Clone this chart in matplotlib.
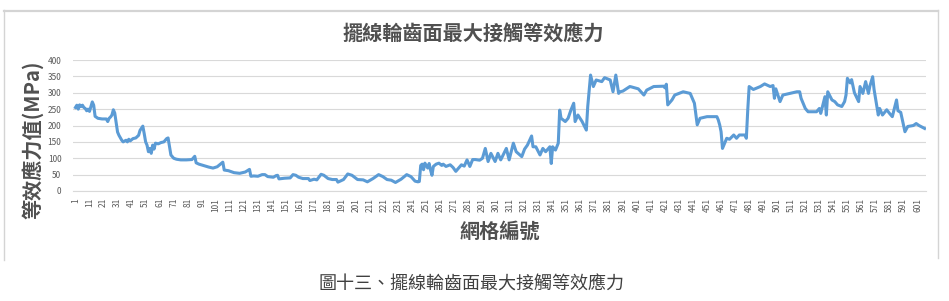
import matplotlib
matplotlib.use("Agg")
import matplotlib.pyplot as plt
from matplotlib.lines import Line2D

plt.rcParams['font.family'] = ['Noto Sans CJK TC', 'DejaVu Sans']

# values (grid index, stress in MPa)
idx_a = [1, 2, 3, 4, 5, 6, 7, 8, 9, 10, 11, 12, 13, 14, 15, 17, 20, 23, 24, 25, 26, 27, 28, 29,
         31, 32, 34, 35, 37, 38, 39, 40, 42, 44, 46, 47, 49, 50, 51, 52, 53, 54, 55, 56, 57, 58,
         60, 62, 64, 66, 67, 68, 69, 71, 73, 76, 80, 84, 86, 87, 89, 92, 96, 99, 102, 106, 107,
         110, 114, 118, 122, 125, 126, 128, 131, 134, 136, 138, 142, 144, 145, 146, 150, 154,
         156, 158, 160, 163, 167, 168, 171, 173, 176, 178, 181, 184, 187, 188, 192, 195, 198,
         202, 206, 209, 213, 217, 220, 223, 226, 229, 233, 237, 240, 243, 245, 246]
val_a = [255, 262, 250, 263, 258, 262, 255, 252, 245, 250, 243, 258, 272, 262, 228, 222, 220, 220,
         212, 222, 226, 232, 248, 238, 180, 170, 155, 150, 155, 150, 158, 153, 160, 162, 170, 185,
         198, 175, 150, 140, 120, 130, 115, 140, 128, 146, 144, 148, 150, 160, 162, 135, 110, 100,
         97, 95, 95, 96, 106, 86, 82, 78, 73, 70, 74, 88, 64, 62, 56, 54, 58, 66, 45, 46, 45, 50,
         50, 44, 42, 47, 48, 37, 39, 40, 50, 48, 42, 38, 38, 32, 36, 34, 51, 48, 38, 35, 35, 27,
         35, 52, 48, 35, 34, 28, 38, 50, 44, 35, 33, 26, 36, 50, 44, 30, 28, 29]

idx_b = [247, 248, 249, 250, 252, 253, 254, 255, 256, 258, 260, 262, 263, 265, 268, 270, 272, 274,
         276, 278, 280, 282, 284, 286, 289, 291, 293, 295, 297, 300, 302, 304, 308, 310, 313, 315,
         319, 321, 323, 326, 327, 329, 332, 334, 336, 339, 340, 341, 343, 345, 346, 347, 350, 352,
         354, 356, 357, 359, 362, 365, 366, 368, 370, 372, 376, 378, 382, 384, 386, 388]
val_b = [78, 82, 65, 85, 70, 84, 64, 48, 75, 82, 85, 78, 82, 75, 80, 72, 60, 70, 80, 76, 95, 75, 96,
         96, 94, 100, 130, 90, 115, 90, 115, 95, 130, 95, 146, 120, 105, 128, 140, 168, 135, 135,
         110, 130, 120, 135, 84, 135, 125, 146, 247, 222, 212, 222, 247, 268, 212, 232, 212, 186,
         258, 354, 319, 339, 334, 346, 339, 303, 354, 298]

idx_c = [389, 391, 396, 397, 402, 406, 408, 413, 420, 421, 422, 423, 426, 428, 434, 439, 442, 444,
         446, 451, 458, 459, 460, 461, 462, 465, 467, 470, 472, 474, 478, 479, 480, 481, 484, 489,
         492, 496, 498, 499, 500, 503, 505, 510, 515, 517, 518, 521, 523, 529, 531, 532, 535, 536,
         537, 540, 542, 544, 547, 549, 550, 551, 553, 554, 556, 559, 560, 562, 564, 566, 567, 569,
         570, 573, 574, 576, 579, 581, 583, 586, 587, 589, 592, 594, 598, 600, 602, 606]
val_c = [303, 305, 319, 318, 312, 293, 308, 319, 320, 315, 326, 263, 278, 293, 303, 298, 268, 202,
         222, 227, 227, 217, 202, 181, 130, 161, 158, 171, 161, 171, 171, 161, 247, 319, 310, 319,
         327, 319, 322, 283, 312, 273, 293, 298, 303, 303, 283, 252, 242, 242, 252, 237, 288, 232,
         303, 278, 273, 263, 258, 273, 293, 344, 330, 340, 300, 273, 319, 298, 334, 298, 320, 349,
         310, 232, 252, 232, 248, 237, 227, 278, 245, 240, 181, 197, 200, 206, 200, 191]

grid_idx = idx_a + idx_b + idx_c
stress = val_a + val_b + val_c

xtick_vals = list(range(1, 602, 10))
ytick_vals = [0, 50, 100, 150, 200, 250, 300, 350, 400]

W, H = 949, 301
fig = plt.figure(figsize=(W / 100, H / 100), dpi=100)

# chart frame: top, left and right edges only
def fig_line(xs, ys, lw):
    fig.lines.append(Line2D([x / W for x in xs], [1 - y / H for y in ys],
                            transform=fig.transFigure, color="#d4d4d4", linewidth=lw))

fig_line([4, 938], [10.5, 10.5], 1.6)
fig_line([4, 4], [10, 260], 1.0)
fig_line([938, 938], [10, 258], 1.0)

ax = fig.add_axes([72.5 / W, 1 - 191 / H, (926 - 72.5) / W, (191 - 60) / H])
ax.plot(grid_idx, stress, color="#5b9bd5", linewidth=2.2, solid_joinstyle="round")

ax.set_xlim(-1.1, 607)
ax.set_ylim(0, 400)
ax.set_yticks(ytick_vals)
ax.set_xticks(xtick_vals)
ax.set_xticklabels([str(v) for v in xtick_vals], rotation=90)
ax.tick_params(axis="both", length=0, labelsize=6, colors="#595959")
ax.tick_params(axis="x", pad=5)
ax.tick_params(axis="y", pad=8)
ax.grid(axis="y", color="#d9d9d9", linewidth=0.8)
ax.set_axisbelow(True)
for s in ["top", "right", "left"]:
    ax.spines[s].set_visible(False)
ax.spines["bottom"].set_color("#d9d9d9")
ax.spines["bottom"].set_linewidth(0.8)
ax.patch.set_alpha(0)

fig.text(473 / W, 1 - 33 / H, "擺線輪齒面最大接觸等效應力", ha="center", va="center",
         fontsize=14.5, fontweight="bold", color="#505050")
fig.text(32 / W, 1 - 140 / H, "等效應力值(MPa)", ha="center", va="center", rotation=90,
         fontsize=14.5, fontweight="bold", color="#505050")
fig.text(500 / W, 1 - 231 / H, "網格編號", ha="center", va="center",
         fontsize=14.5, fontweight="bold", color="#505050")
fig.text(472 / W, 1 - 285 / H, "圖十三、擺線輪齒面最大接觸等效應力", ha="center", va="center",
         fontsize=13, color="#404040")

fig.savefig("out.png", dpi=100)
